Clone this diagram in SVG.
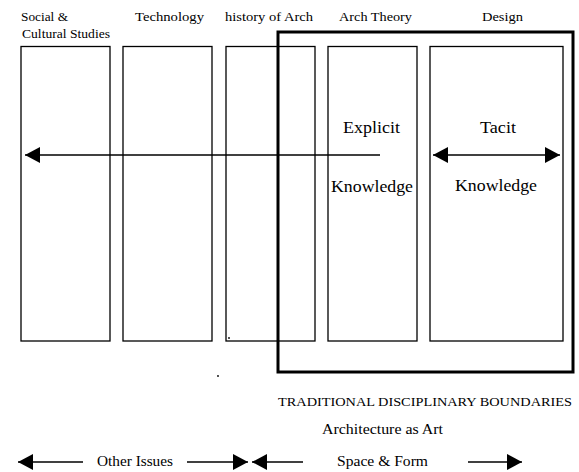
<svg xmlns="http://www.w3.org/2000/svg" width="579" height="472" viewBox="0 0 579 472">
<style>
.box{fill:none;stroke:#000;stroke-width:1.3}
.thick{fill:none;stroke:#000;stroke-width:3}
.ln{stroke:#000;stroke-width:1.5;fill:none}
text{fill:#000}
.t{font-size:13px}
.m{font-size:17px}
.b{font-size:15px}
</style>
<defs>
<marker id="ahb" viewBox="0 0 15 16" refX="15" refY="8" markerWidth="15" markerHeight="16" markerUnits="userSpaceOnUse" orient="auto-start-reverse">
<path d="M0,0 L15,8 L0,16 z" fill="#000"/>
</marker>
</defs>
<rect width="579" height="472" fill="#fff"/>
<g font-family="'Liberation Serif', 'DejaVu Serif', 'Times New Roman', serif">
<g id="social">
<rect class="box" x="21" y="46.5" width="89" height="294.5"/>
<text class="t" x="21" y="21" textLength="47" lengthAdjust="spacingAndGlyphs">Social &amp;</text>
<text class="t" x="22" y="38" textLength="88" lengthAdjust="spacingAndGlyphs">Cultural Studies</text>
</g>
<g id="technology">
<rect class="box" x="123" y="46.5" width="89" height="294.5"/>
<text class="t" x="135" y="21" textLength="69" lengthAdjust="spacingAndGlyphs">Technology</text>
</g>
<g id="history">
<rect class="box" x="226" y="46.5" width="89" height="294.5"/>
<text class="t" x="225" y="21" textLength="88" lengthAdjust="spacingAndGlyphs">history of Arch</text>
</g>
<g id="theory">
<rect class="box" x="328" y="46.5" width="89" height="294.5"/>
<text class="t" x="339" y="21" textLength="73" lengthAdjust="spacingAndGlyphs">Arch Theory</text>
<text class="m" x="343" y="133" textLength="57" lengthAdjust="spacingAndGlyphs">Explicit</text>
<text class="m" x="331" y="192" textLength="82" lengthAdjust="spacingAndGlyphs">Knowledge</text>
</g>
<g id="design">
<rect class="box" x="430" y="46.5" width="133" height="294.5"/>
<text class="t" x="482" y="21" textLength="41" lengthAdjust="spacingAndGlyphs">Design</text>
<text class="m" x="480" y="133" textLength="36" lengthAdjust="spacingAndGlyphs">Tacit</text>
<text class="m" x="455" y="191" textLength="82" lengthAdjust="spacingAndGlyphs">Knowledge</text>
</g>
<g id="boundary">
<rect class="thick" x="278" y="32" width="295" height="340"/>
<text class="t" x="278" y="406" textLength="294" lengthAdjust="spacingAndGlyphs">TRADITIONAL DISCIPLINARY BOUNDARIES</text>
</g>
<g id="labels">
<text class="b" x="322" y="434" textLength="121" lengthAdjust="spacingAndGlyphs">Architecture as Art</text>
<text class="b" x="97" y="466" textLength="76" lengthAdjust="spacingAndGlyphs">Other Issues</text>
<text class="b" x="337" y="466" textLength="91" lengthAdjust="spacingAndGlyphs">Space &amp; Form</text>
</g>
</g>
<g id="connectors">
<line class="ln" x1="380" y1="155" x2="25" y2="155" marker-end="url(#ahb)"/>
<line class="ln" x1="433" y1="155" x2="560" y2="155" marker-start="url(#ahb)" marker-end="url(#ahb)"/>
<line class="ln" x1="83" y1="462" x2="18" y2="462" marker-end="url(#ahb)"/>
<line class="ln" x1="187" y1="462" x2="248" y2="462" marker-end="url(#ahb)"/>
<line class="ln" x1="303" y1="462" x2="252" y2="462" marker-end="url(#ahb)"/>
<line class="ln" x1="468" y1="462" x2="522" y2="462" marker-end="url(#ahb)"/>
</g>
<g id="dots">
<circle cx="229" cy="338" r="0.9" fill="#000"/>
<circle cx="218" cy="376" r="0.9" fill="#000"/>
</g>
</svg>
